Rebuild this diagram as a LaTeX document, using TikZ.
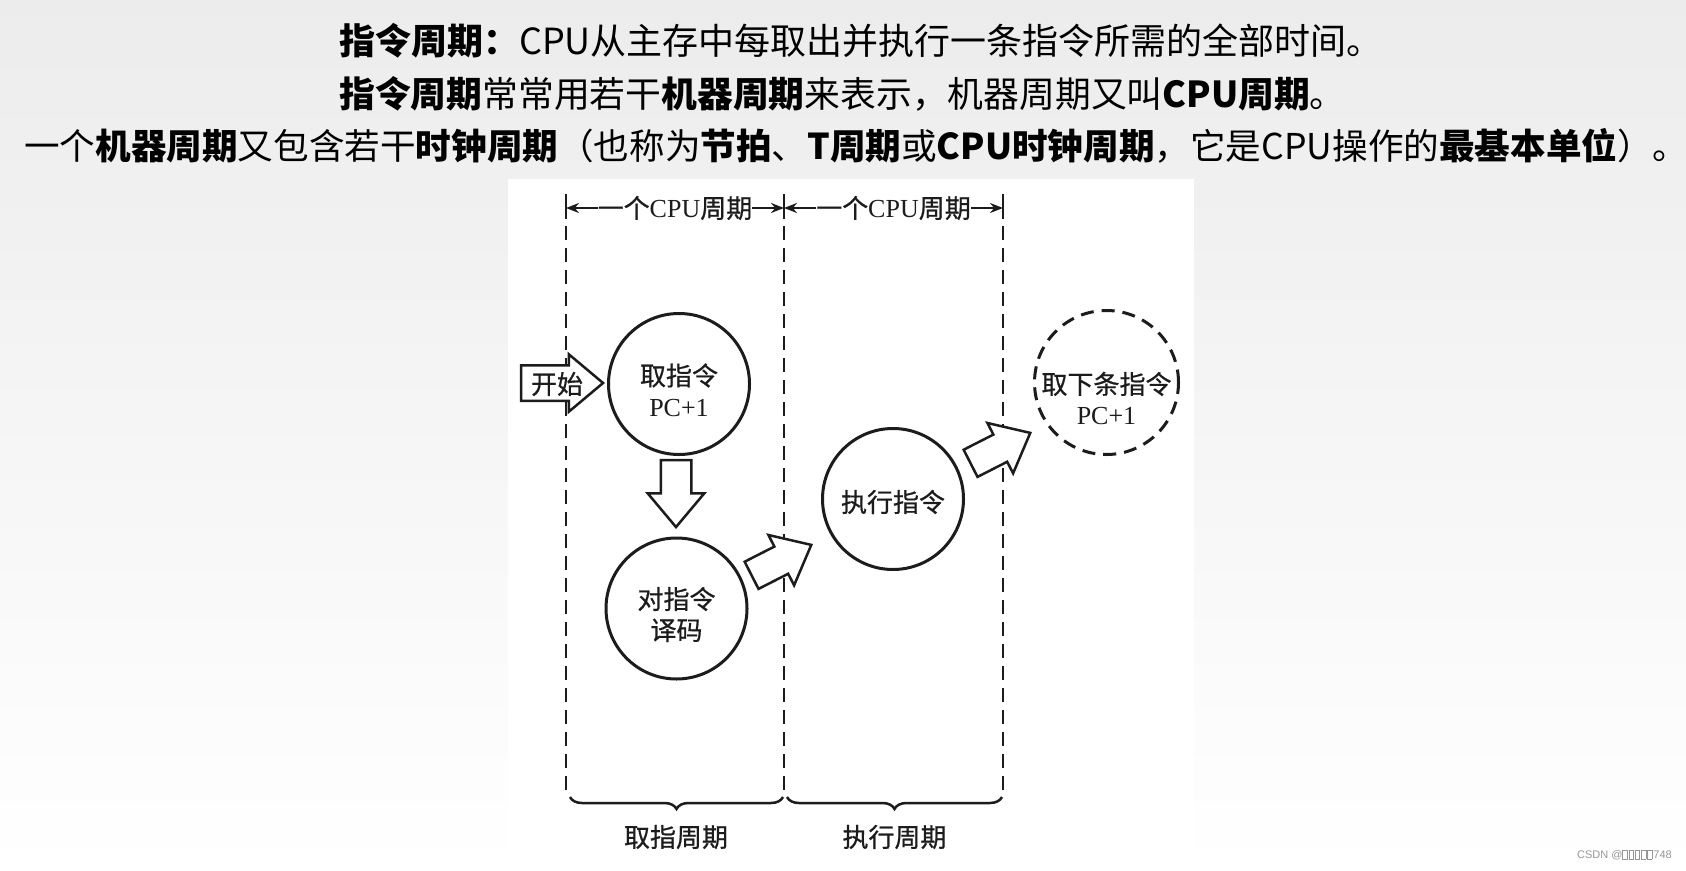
\documentclass[tikz,border=0pt]{standalone}
\usepackage{fontspec}
\setmainfont{Noto Sans CJK SC}
\newfontfamily\diagcjk{Noto Sans CJK SC}[FakeBold=0.7]
\newfontfamily\latinserif{Liberation Serif}
\newfontfamily\marksans{Liberation Sans}
\usetikzlibrary{arrows.meta, positioning, shapes.arrows, decorations.pathreplacing}
\definecolor{slidegray}{RGB}{236,236,236}
\definecolor{inkdark}{RGB}{28,28,28}
\definecolor{markgray}{RGB}{150,150,150}
\newcommand{\tofu}{{\setlength{\fboxsep}{0pt}\setlength{\fboxrule}{0.6pt}\fbox{\rule{0pt}{8pt}\rule{4pt}{0pt}}}\kern1pt}

\begin{document}
\begin{tikzpicture}[
    x = 1pt, y = -1pt,
    every node/.style = {inner sep=0pt, text=inkdark, font=\diagcjk\fontsize{26}{31}\selectfont},
    headline/.style = {anchor=west, text=black, font=\rmfamily\fontsize{36}{40}\selectfont},
    phase/.style = {circle, draw=inkdark, line width=3pt, minimum size=141pt},
    nextphase/.style = {phase, dash pattern=on 13pt off 8pt},
    phaselabel/.style = {align=center},
    blockarrow/.style = {single arrow, draw=inkdark, fill=white, line width=2.5pt,
                         single arrow tip angle=80, single arrow head extend=13pt,
                         inner xsep=0pt, inner ysep=14pt,
                         minimum height=67pt, minimum width=54pt},
    boundary/.style = {line width=2pt, draw=inkdark, dash pattern=on 14pt off 8pt},
    tick/.style = {line width=2.4pt, draw=inkdark},
    dimarrow/.style = {-{Stealth[length=13pt, width=10pt]}, line width=2pt, draw=inkdark},
    bracket/.style = {decorate, decoration={brace, mirror, amplitude=12pt, aspect=0.5},
                      line width=2.5pt, draw=inkdark}
]
  \useasboundingbox (0,0) rectangle (1686,870);
  \fill[top color=slidegray, bottom color=white] (0,0) rectangle (1686,870);
  \fill[white] (508,179) rectangle (1194,870);

  % slide text
  \node[headline] (defline) at (339,41) {\textbf{指令周期：}CPU从主存中每取出并执行一条指令所需的全部时间。};
  \node[headline, font=\rmfamily\fontsize{35.8}{40}\selectfont] (machline) at (339,94) {\textbf{指令周期}常常用若干\textbf{机器周期}来表示，机器周期又叫\textbf{CPU周期}。};
  \node[headline, font=\rmfamily\fontsize{35.6}{40}\selectfont] (clockline) at (24,146) {一个\textbf{机器周期}又包含若干\textbf{时钟周期}（也称为\textbf{节拍}、\textbf{T周期}或\textbf{CPU时钟周期}，它是CPU操作的\textbf{最基本单位}）。};

  % cycle boundaries
  \coordinate (fetchL) at (566,208);
  \coordinate (fetchR) at (784,208);
  \coordinate (execR) at (1003,208);
  \draw[tick] (566,194) -- (566,219);
  \draw[tick] (784,194) -- (784,219);
  \draw[tick] (1003,194) -- (1003,219);
  \draw[boundary] (566,226) -- (566,793);
  \draw[boundary] (784,226) -- (784,793);
  \draw[boundary] (1003,226) -- (1003,793);

  \node (fetchspan) at (675,208) {一个{\latinserif CPU}周期};
  \node (execspan) at (893.5,208) {一个{\latinserif CPU}周期};
  \draw[dimarrow] (fetchspan.west) -- (fetchL);
  \draw[dimarrow] (fetchspan.east) -- (fetchR);
  \draw[dimarrow] (execspan.west) -- (fetchR);
  \draw[dimarrow] (execspan.east) -- (execR);

  % phases
  \node[phase] (fetch) at (679,384) {};
  \node[phaselabel] (fetchtext) at ([yshift=-6pt]fetch.center) {取指令\\{\latinserif PC+1}};
  \node[phase] (decode) at (676.5,608.5) {};
  \node[phaselabel] (decodetext) at ([yshift=-6pt]decode.center) {对指令\\译码};
  \node[phase] (execute) at (893,499) {};
  \node[phaselabel] (executetext) at ([yshift=-3pt]execute.center) {执行指令};
  \node[nextphase, minimum size=144pt] (nextfetch) at (1106.5,382.5) {};
  \node[phaselabel] (nextfetchtext) at ([yshift=-16pt]nextfetch.center) {取下条指令\\{\latinserif PC+1}};

  \node[blockarrow, inner ysep=16.5pt, single arrow head extend=11pt,
        minimum height=82pt, minimum width=55pt, anchor=tip] (startarrow) at (605,383) {};
  \node (startlabel) at (557,384) {开始};
  \node[blockarrow, rotate=-90, anchor=tip] (todecode) at (676,529) {};
  \node[blockarrow, rotate=27, anchor=tip] (toexecute) at (813,544) {};
  \node[blockarrow, rotate=27, anchor=tip] (tonext) at (1032,432) {};

  % cycle names
  \draw[bracket] (570,797) -- (783,797);
  \draw[bracket] (787,797) -- (1002,797);
  \node (fetchcycle) at (676,837) {取指周期};
  \node (execcycle) at (894.5,837) {执行周期};

  \node[anchor=east, text=markgray, font=\marksans\fontsize{11}{13}\selectfont] (csdnmark) at (1672,855) {CSDN @\tofu\tofu\tofu\tofu\tofu748};
\end{tikzpicture}
\end{document}
